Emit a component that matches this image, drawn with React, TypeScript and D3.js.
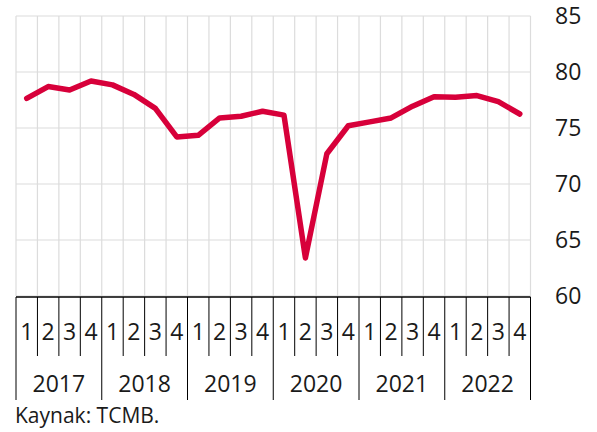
import React from 'react';
import * as d3 from 'd3';

const years = ['2017', '2018', '2019', '2020', '2021', '2022'];
const quarters = ['1', '2', '3', '4'];
const values = [
  77.65, 78.7, 78.4, 79.2,
  78.85, 78.0, 76.75, 74.2,
  74.35, 75.9, 76.05, 76.5,
  76.15, 63.4, 72.7, 75.2,
  75.55, 75.9, 76.95, 77.8,
  77.75, 77.9, 77.35, 76.25,
];
const yTicks = [60, 65, 70, 75, 80, 85];

const W = 597;
const H = 432;
const left = 16;
const right = 530.5;
const top = 16;
const bottom = 296;

const App = () => {
  const keys = years.flatMap((y) => quarters.map((q) => `${y}-${q}`));
  const x = d3.scaleBand().domain(keys).range([left, right]);
  const y = d3.scaleLinear().domain([60, 85]).range([bottom, top]);

  const line = d3
    .line<number>()
    .x((_, i) => x(keys[i])! + x.bandwidth() / 2)
    .y((d) => y(d));

  const font = "'Open Sans', sans-serif";

  return (
    <svg
      width={W}
      height={H}
      style={{ position: 'absolute', left: 0, top: 0 }}
      fontFamily={font}
    >
      {/* grid */}
      {yTicks.map((t) => (
        <line key={t} x1={left} x2={right} y1={y(t)} y2={y(t)} stroke="#dcdcdc" strokeWidth={1.2} />
      ))}
      {keys.map((k) => (
        <line key={k} x1={x(k)} x2={x(k)} y1={top} y2={bottom} stroke="#dcdcdc" strokeWidth={1.2} />
      ))}
      <line x1={right} x2={right} y1={top} y2={bottom} stroke="#dcdcdc" strokeWidth={1.2} />

      {/* y labels */}
      {yTicks.map((t) => (
        <text key={t} x={555} y={y(t)} dy="0.35em" fontSize={23} fill="#1a1a1a">
          {t}
        </text>
      ))}

      {/* x axis */}
      <line x1={left} x2={right} y1={bottom + 1} y2={bottom + 1} stroke="#000" strokeWidth={1.5} />
      {keys.map((k, i) => (
        <g key={k}>
          <line
            x1={x(k)}
            x2={x(k)}
            y1={bottom + 1}
            y2={i % 4 === 0 ? 400 : 356}
            stroke="#000"
            strokeWidth={1}
          />
          <text
            x={x(k)! + x.bandwidth() / 2}
            y={340}
            textAnchor="middle"
            fontSize={23}
            fill="#1a1a1a"
          >
            {quarters[i % 4]}
          </text>
        </g>
      ))}
      <line x1={right} x2={right} y1={bottom + 1} y2={400} stroke="#000" strokeWidth={1} />
      {years.map((yr, i) => (
        <text
          key={yr}
          x={x(keys[i * 4])! + x.bandwidth() * 2}
          y={392}
          textAnchor="middle"
          fontSize={23}
          fill="#1a1a1a"
        >
          {yr}
        </text>
      ))}

      {/* series */}
      <path
        d={line(values) || ''}
        fill="none"
        stroke="#d7003a"
        strokeWidth={5.5}
        strokeLinejoin="round"
        strokeLinecap="round"
      />

      <text x={15} y={423} fontSize={21} fill="#1a1a1a">
        Kaynak: TCMB.
      </text>
    </svg>
  );
};

export default App;
